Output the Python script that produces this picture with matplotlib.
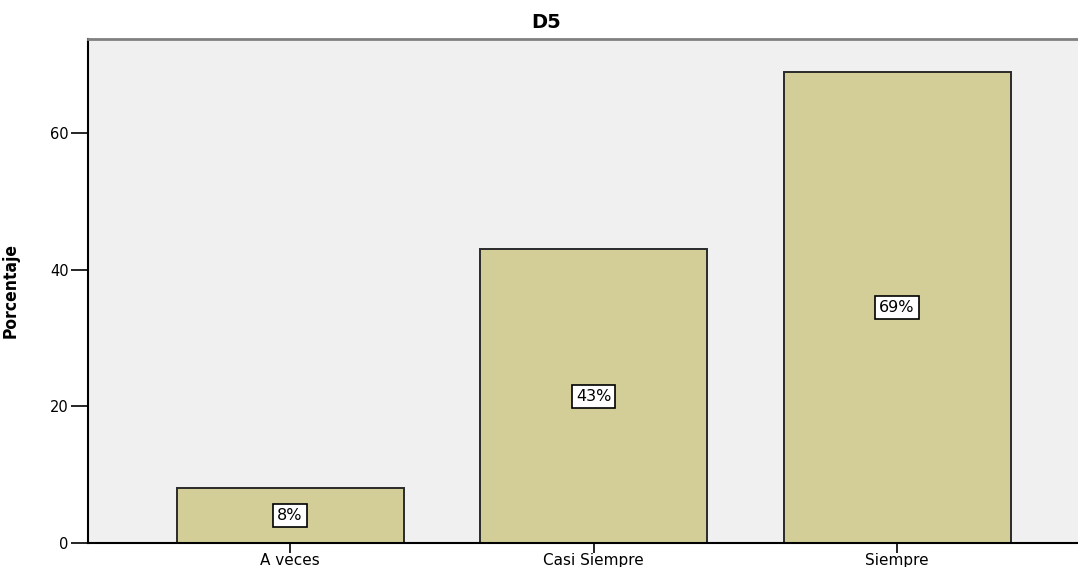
import matplotlib
matplotlib.use("Agg")
import matplotlib.pyplot as plt

categories = ["A veces", "Casi Siempre", "Siempre"]
percentages = [8, 43, 69]
y_ticks = [0, 20, 40, 60]

BAR_COLOR = "#D3CE98"
BG_COLOR = "#F0F0F0"


def main():
    fig = plt.figure(figsize=(10.78, 5.67), dpi=100)
    ax = fig.add_axes([88 / 1078, 24 / 567, 990 / 1078, 504 / 567])
    ax.set_facecolor(BG_COLOR)

    positions = range(len(categories))
    ax.bar(
        positions,
        percentages,
        width=0.748,
        color=BAR_COLOR,
        edgecolor="#2a2a2a",
        linewidth=1.4,
        zorder=2,
    )

    for x, v in zip(positions, percentages):
        ax.text(
            x, v / 2, f"{v}%",
            ha="center", va="center", fontsize=11.5, zorder=3,
            bbox=dict(boxstyle="square,pad=0.25", fc="white", ec="black", lw=1.2),
        )

    ax.set_xlim(-0.6656, 2.596)
    ax.set_ylim(0, 73.8)
    ax.set_xticks(list(positions))
    ax.set_xticklabels(categories, fontsize=11)
    ax.set_yticks(y_ticks)
    ax.tick_params(axis="y", length=12, width=1.2, labelsize=10.5, pad=2)
    ax.tick_params(axis="x", length=7, width=1.2, pad=0)

    ax.spines["left"].set_linewidth(1.5)
    ax.spines["bottom"].set_linewidth(1.5)
    ax.spines["top"].set_color("#808080")
    ax.spines["top"].set_linewidth(2)
    ax.spines["right"].set_visible(False)

    ax.set_ylabel(
        "Porcentaje",
        fontsize=12.5,
        fontweight="bold",
        fontstretch="condensed",
    )
    ax.yaxis.set_label_coords(-0.069, 0.5)

    fig.text(546 / 1078, 1 - 22 / 567, "D5", ha="center", va="center",
             fontsize=14, fontweight="bold")

    fig.savefig("out.png", dpi=100)


main()
